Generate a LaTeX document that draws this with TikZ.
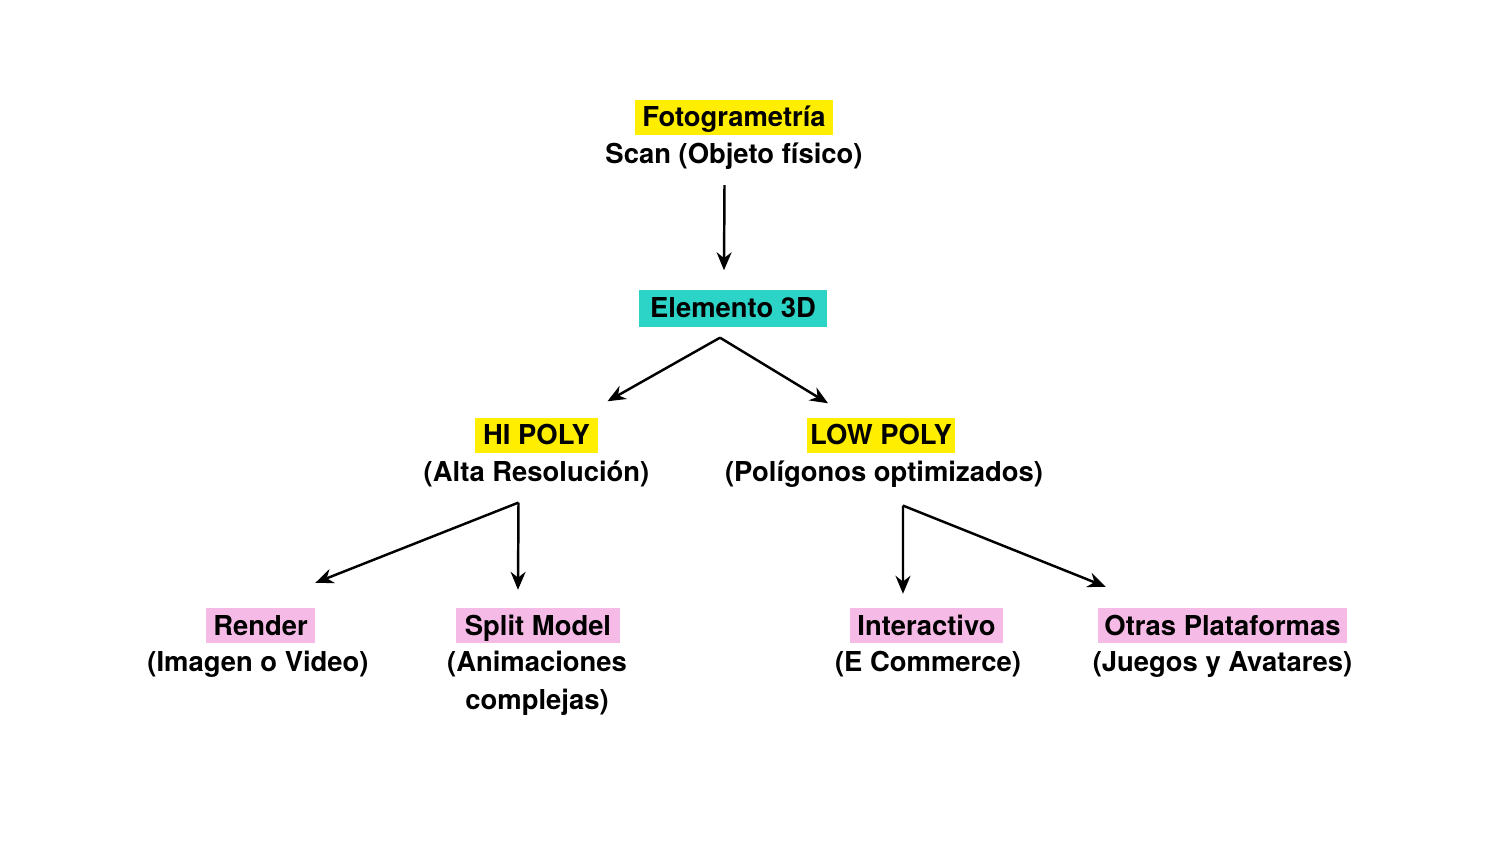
\documentclass[tikz,border=0pt]{standalone}
\usepackage{fontspec}
\setmainfont{TeX Gyre Heros}
\usetikzlibrary{positioning, arrows.meta}
\definecolor{hlyellow}{RGB}{255,238,0}
\definecolor{hlcyan}{RGB}{44,212,200}
\definecolor{hlpink}{RGB}{245,187,230}

\begin{document}
\begin{tikzpicture}[
        every node/.style={font=\fontsize{7.8}{9.4}\selectfont\bfseries, text height=0.225cm, text depth=0.035cm, inner ysep=0.045cm, inner xsep=0.07cm},
        arr/.style={-{Stealth[length=1.8mm,width=1.5mm]}, line width=0.7pt}
    ]
        \useasboundingbox (0,0) rectangle (15,8.44);

        \node[fill=hlyellow] (foto) at (7.34,7.265) {Fotogrametría};
        \node[below=0pt of foto] (fotosub) {Scan (Objeto físico)};
        \node[fill=hlcyan, inner xsep=0.11cm, inner ysep=0.055cm] (elem) at (7.33,5.355) {Elemento 3D};
        \node[fill=hlyellow, inner xsep=0.085cm] (hi) at (5.365,4.085) {HI POLY};
        \node[below=0pt of hi] (hisub) {(Alta Resolución)};
        \node[fill=hlyellow, inner xsep=0.035cm] (low) at (8.81,4.085) {LOW POLY};
        \node[below=0pt of low, xshift=0.3mm] (lowsub) {(Polígonos optimizados)};
        \node[fill=hlpink] (render) at (2.605,2.18) {Render};
        \node[below=0pt of render, xshift=-0.25mm] (rendersub) {(Imagen o Video)};
        \node[fill=hlpink, inner xsep=0.085cm] (split) at (5.38,2.18) {Split Model};
        \node[below=0pt of split, xshift=-0.1mm] (splitsub) {(Animaciones};
        \node[below=0.01cm of splitsub] (splitsubb) {complejas)};
        \node[fill=hlpink] (inter) at (9.265,2.18) {Interactivo};
        \node[below=0pt of inter, xshift=0.15mm] (intersub) {(E Commerce)};
        \node[fill=hlpink, inner xsep=0.06cm] (otras) at (12.225,2.18) {Otras Plataformas};
        \node[below=0pt of otras] (otrassub) {(Juegos y Avatares)};

        \coordinate (elemout) at ([xshift=-1.3mm,yshift=-1mm]elem.south);
        \coordinate (hiout) at ([xshift=-1.8mm,yshift=-1.25mm]hisub.south);
        \coordinate (lowout) at ([xshift=1.9mm,yshift=-1.55mm]lowsub.south);

        \path
        ([xshift=-0.95mm,yshift=-1.3mm]fotosub.south) edge[arr] ([xshift=-0.9mm,yshift=1.9mm]elem.north)
        (elemout) edge[arr] ([xshift=7.1mm,yshift=1.6mm]hi.north)
        (elemout) edge[arr] ([xshift=-5.3mm,yshift=1.4mm]low.north)
        (hiout) edge[arr] ([yshift=2.5mm]render.north east)
        (hiout) edge[arr] ([xshift=-2mm,yshift=1.8mm]split.north)
        (lowout) edge[arr] ([xshift=-2.35mm,yshift=1.4mm]inter.north)
        (lowout) edge[arr] ([xshift=0.8mm,yshift=2.1mm]otras.north west)
        ;
    \end{tikzpicture}
\end{document}
